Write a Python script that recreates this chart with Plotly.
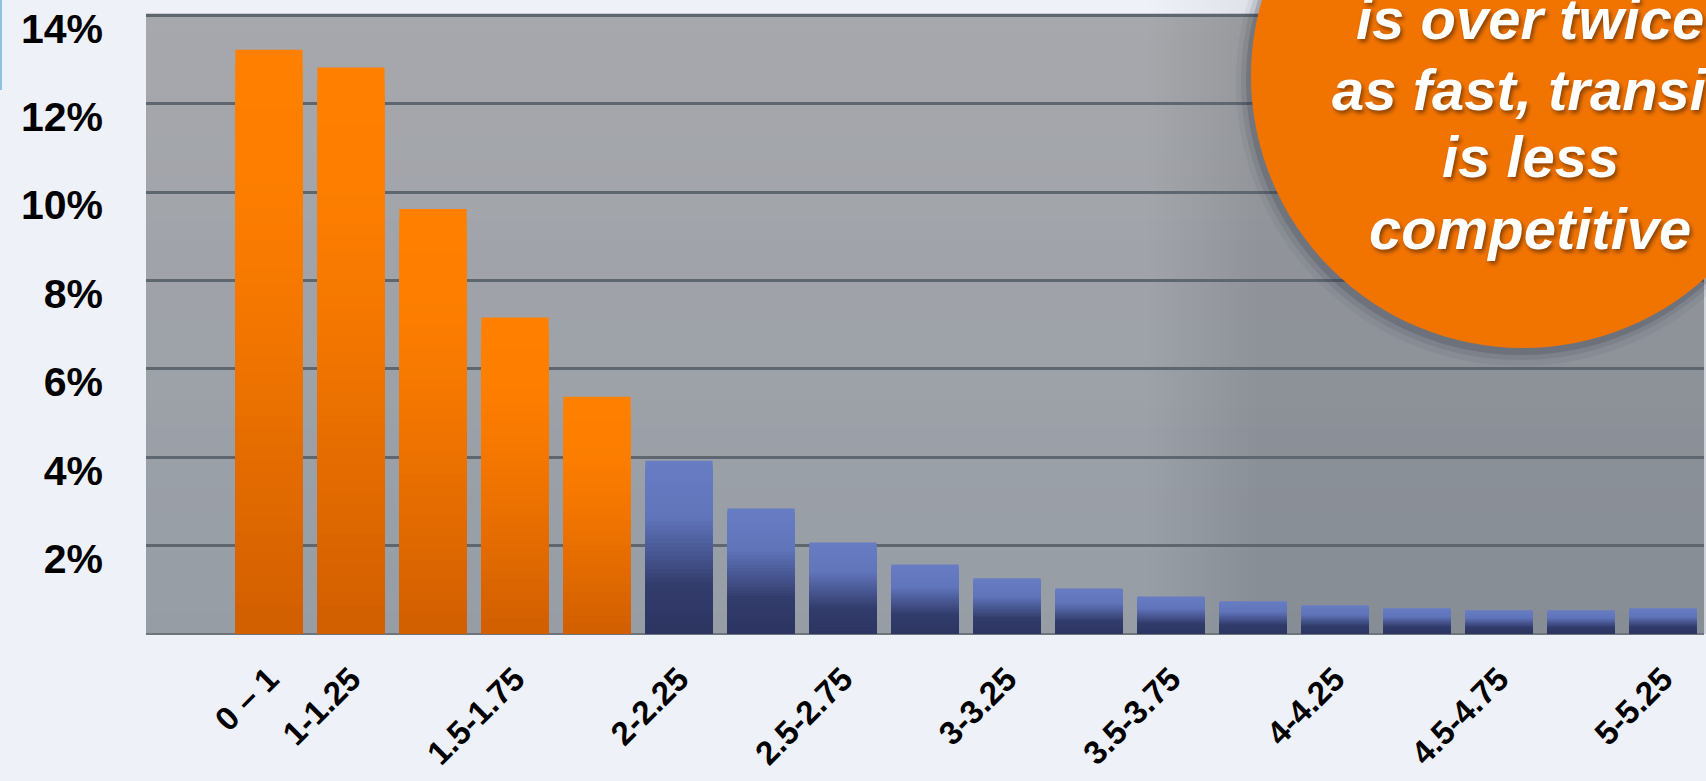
import plotly.graph_objects as go

# ---------------- data ----------------
categories = ["0 – 1", "1-1.25", "1.25-1.5", "1.5-1.75", "1.75-2", "2-2.25",
              "2.25-2.5", "2.5-2.75", "2.75-3", "3-3.25", "3.25-3.5", "3.5-3.75",
              "3.75-4", "4-4.25", "4.25-4.5", "4.5-4.75", "4.75-5", "5-5.25"]
shares = [13.22, 12.82, 9.62, 7.16, 5.37, 3.92, 2.84, 2.07, 1.57, 1.26,
          1.03, 0.85, 0.74, 0.65, 0.58, 0.54, 0.54, 0.58]
n_orange = 5
shown_labels = ["0 – 1", "1-1.25", "1.5-1.75", "2-2.25", "2.5-2.75",
                "3-3.25", "3.5-3.75", "4-4.25", "4.5-4.75", "5-5.25"]
y_ticks = [2, 4, 6, 8, 10, 12, 14]
y_tick_text = [f"{v}%" for v in y_ticks]
callout_lines = ["is over twice", "as fast, transit", "is less", "competitive"]

# ---------------- layout geometry (pixels) ----------------
FIG_W, FIG_H = 1706, 781
M_L, M_R, M_T, M_B = 146, 2, 14, 147
PW = FIG_W - M_L - M_R
PH = FIG_H - M_T - M_B


def px_x(p):
    return (p - M_L) / PW


def px_y(q):
    return (FIG_H - M_B - q) / PH


def lerp_color(stops, t):
    t = max(0.0, min(1.0, t))
    for (t0, c0), (t1, c1) in zip(stops[:-1], stops[1:]):
        if t0 <= t <= t1:
            u = 0 if t1 == t0 else (t - t0) / (t1 - t0)
            r, g, b = (round(a + (bb - a) * u) for a, bb in zip(c0, c1))
            return f"rgb({r},{g},{b})"
    return f"rgb{stops[-1][1]}"


orange_stops = [(0.0, (209, 94, 0)), (0.55, (244, 119, 0)), (0.8, (254, 127, 0)), (1.0, (255, 128, 0))]
blue_stops = [(0.0, (45, 53, 97)), (0.28, (50, 60, 108)), (0.68, (97, 117, 187)), (1.0, (104, 124, 195))]

fig = go.Figure()

N = 40
for k in range(N):
    f = 1 - k / N
    fmid = f - 0.5 / N
    cols = [lerp_color(orange_stops, fmid) if i < n_orange else lerp_color(blue_stops, fmid)
            for i in range(len(shares))]
    fig.add_trace(go.Bar(
        x=categories,
        y=[v * f for v in shares],
        marker=dict(color=cols, line=dict(width=0)),
        hoverinfo="skip" if k else "x+y",
        showlegend=False,
    ))

shapes = []
# plot background vertical gradient
top_c = (167, 168, 173)
bot_c = (150, 157, 165)
NB = 30
for j in range(NB):
    t = (j + 0.5) / NB
    c = tuple(round(a + (b - a) * t) for a, b in zip(top_c, bot_c))
    shapes.append(dict(type="rect", xref="paper", yref="paper", layer="below",
                       x0=0, x1=1, y0=1 - (j + 1) / NB, y1=1 - j / NB + 0.001,
                       fillcolor=f"rgb{c}", line=dict(width=0)))

# soft shaded zone behind the callout: stacked translucent layers, all reaching the right edge
x_start, x_full = 1150, 1262
NSB = 16
for j in range(NSB):
    xa = x_start + (x_full - x_start) * j / NSB
    shapes.append(dict(type="rect", xref="paper", yref="paper", layer="below",
                       x0=px_x(xa), x1=px_x(FIG_W), y0=0, y1=1,
                       fillcolor="rgba(50,55,80,0.011)", line=dict(width=0)))
    shapes.append(dict(type="rect", xref="paper", yref="paper", layer="below",
                       x0=px_x(xa), x1=px_x(FIG_W), y0=1, y1=px_y(0),
                       fillcolor="rgba(70,80,120,0.007)", line=dict(width=0)))

# thin blue line at the left edge
shapes.append(dict(type="line", xref="paper", yref="paper",
                   x0=px_x(1), x1=px_x(1), y0=px_y(0), y1=px_y(90),
                   line=dict(color="#8DC2E6", width=2)))

# callout circle with a tight drop shadow
cx, cy, r = 1523, 76, 272
for dr, dx, dy, op in [(12, -3, 6, 0.06), (7, -3, 5, 0.1), (3, -2, 4, 0.18)]:
    sx, sy = cx + dx, cy + dy
    shapes.append(dict(type="circle", xref="paper", yref="paper", layer="above",
                       x0=px_x(sx - r - dr), x1=px_x(sx + r + dr),
                       y0=px_y(sy + r + dr), y1=px_y(sy - r - dr),
                       fillcolor=f"rgba(40,44,62,{op})", line=dict(width=0)))
shapes.append(dict(type="circle", xref="paper", yref="paper", layer="above",
                   x0=px_x(cx - r), x1=px_x(cx + r),
                   y0=px_y(cy + r), y1=px_y(cy - r),
                   fillcolor="#F27400", line=dict(width=0)))

annotations = []
line_centers = [19, 89, 157, 228]
for txt, yc in zip(callout_lines, line_centers):
    annotations.append(dict(
        text=txt, xref="paper", yref="paper", x=px_x(1530), y=px_y(yc),
        xanchor="center", yanchor="middle", showarrow=False,
        font=dict(family="Liberation Sans, Arial, sans-serif", size=58, color="white",
                  weight="bold", style="italic",
                  shadow="2px 3px 4px rgba(0,0,0,0.45)"),
    ))

fig.update_layout(
    width=FIG_W, height=FIG_H,
    margin=dict(l=M_L, r=M_R, t=M_T, b=M_B, pad=0),
    paper_bgcolor="#EEF1F8",
    plot_bgcolor="#A0A4AA",
    barmode="overlay",
    bargap=0.18,
    shapes=shapes,
    annotations=annotations,
    showlegend=False,
)
fig.update_xaxes(
    type="category", categoryorder="array", categoryarray=categories,
    range=[-1.5, 17.5], tickvals=shown_labels, ticktext=shown_labels,
    tickangle=-45, showgrid=False, ticks="", ticklabelstandoff=18,
    tickfont=dict(family="Liberation Sans, Arial, sans-serif", size=33, color="black", weight="bold"),
    showline=False, zeroline=False,
)
fig.update_yaxes(
    range=[0, 14.03], tickvals=y_ticks, ticktext=y_tick_text,
    showgrid=True, gridcolor="#5E666F", gridwidth=3,
    zeroline=True, zerolinecolor="#6E757D", zerolinewidth=2,
    ticks="", ticklabelstandoff=42, ticklabelshift=13, ticklabeloverflow="allow",
    tickfont=dict(family="Liberation Sans, Arial, sans-serif", size=41, color="black", weight="bold"),
    showline=False,
)

fig.write_html("out.html")
